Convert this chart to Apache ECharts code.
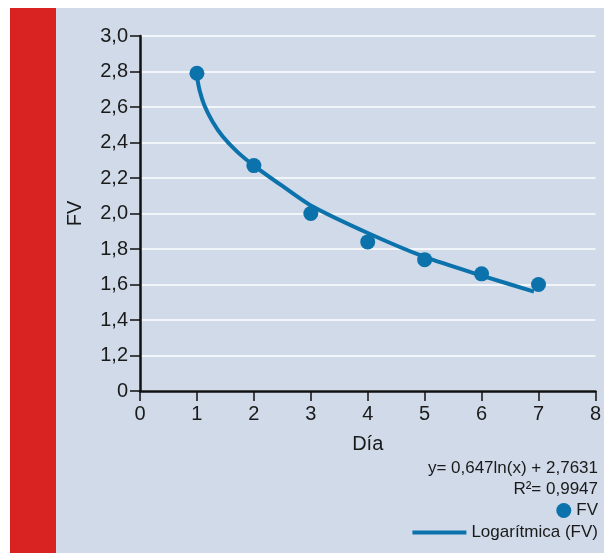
<!DOCTYPE html>
<html>
<head>
<meta charset="utf-8">
<script src="https://cdn.jsdelivr.net/npm/echarts@6/dist/echarts.min.js"></script>
<style>
  html, body { margin: 0; padding: 0; background: #ffffff; overflow: hidden; }
  #chart { width: 604px; height: 553px; }
</style>
</head>
<body>
<div id="chart"></div>
<script>
// Observed FV by day
const days = [1, 2, 3, 4, 5, 6, 7];
const fvValues = [2.79, 2.27, 2.00, 1.84, 1.74, 1.66, 1.60];

// Logarithmic trend curve, sampled along its drawn path
const trendX = [1, 1.05, 1.13, 1.27, 1.45, 1.7, 2, 2.5, 3, 4, 5, 6, 6.92];
const trendY = [2.77, 2.69, 2.61, 2.52, 2.435, 2.35, 2.27, 2.155, 2.045, 1.89, 1.755, 1.65, 1.56];

// Tick labels and annotation texts
const yTickMin = 1.0;   // the bottom tick stands for zero (broken axis)
const yTickMax = 3.0;
const xTickMin = 0;
const xTickMax = 8;
const equationText = 'y= 0,647ln(x) + 2,7631';
const r2Text = 'R\u00B2= 0,9947';
const seriesName = 'FV';
const trendName = 'Logarítmica (FV)';

const FONT = "'Liberation Sans', Arial, sans-serif";
const FS = 17;
const BLUE = '#0b72ac';
const INK = '#1a1a1a';

const chart = echarts.init(document.getElementById('chart'), null, { renderer: 'canvas' });

const fvData = days.map((d, i) => [d, fvValues[i]]);
const trendData = trendX.map((x, i) => [x, trendY[i]]);

const txt = (size) => ({ fontFamily: FONT, fontSize: size, color: INK });

chart.setOption({
  backgroundColor: '#ffffff',
  animation: false,
  graphic: [
    { type: 'rect', z: -10, shape: { x: 10, y: 8, width: 46, height: 545 }, style: { fill: '#d92323' } },
    { type: 'rect', z: -10, shape: { x: 56, y: 8, width: 548, height: 545 }, style: { fill: '#d0dae8' } },
    { type: 'text', right: 6, top: 460, style: { text: equationText, font: FS + 'px ' + FONT, fill: INK } },
    { type: 'text', right: 6, top: 481, style: { text: r2Text, font: FS + 'px ' + FONT, fill: INK } }
  ],
  grid: { left: 140, width: 460, top: 36, height: 355, containLabel: false },
  legend: [
    {
      data: [{ name: seriesName, icon: 'circle' }],
      right: 6, top: 502, padding: 0, itemWidth: 15, itemHeight: 15,
      textStyle: txt(FS),
      selectedMode: false
    },
    {
      data: [{ name: trendName, icon: 'rect' }],
      right: 6, top: 524, padding: 0, itemWidth: 54, itemHeight: 4,
      textStyle: txt(FS),
      selectedMode: false
    }
  ],
  xAxis: {
    type: 'value', min: xTickMin, max: xTickMax, interval: 1,
    name: 'Día', nameLocation: 'middle', nameGap: 43,
    nameTextStyle: txt(20),
    axisLine: { lineStyle: { color: '#111', width: 2.5 } },
    axisTick: { show: true, length: 10, lineStyle: { color: '#111', width: 1.5 } },
    axisLabel: Object.assign(txt(20), { margin: 13 }),
    splitLine: { show: false }
  },
  yAxis: {
    type: 'value', min: yTickMin, max: yTickMax, interval: 0.2,
    name: 'FV', nameLocation: 'middle', nameGap: 55, nameRotate: 90,
    nameTextStyle: txt(20),
    axisLine: { show: true, lineStyle: { color: '#111', width: 2.5 } },
    axisTick: { show: true, length: 10, lineStyle: { color: '#111', width: 1.5 } },
    axisLabel: Object.assign(txt(20), {
      margin: 12,
      formatter: v => (Math.abs(v - yTickMin) < 1e-6 ? '0' : v.toFixed(1).replace('.', ','))
    }),
    splitLine: { show: true, lineStyle: { color: '#ffffff', width: 1.5 } }
  },
  series: [
    {
      name: trendName, type: 'line', data: trendData, smooth: 0.25,
      showSymbol: false, symbol: 'none',
      lineStyle: { color: BLUE, width: 4 }, itemStyle: { color: BLUE }, z: 2
    },
    {
      name: seriesName, type: 'scatter', data: fvData, symbolSize: 15,
      itemStyle: { color: BLUE, opacity: 1 }, z: 3
    }
  ]
});
</script>
</body>
</html>
